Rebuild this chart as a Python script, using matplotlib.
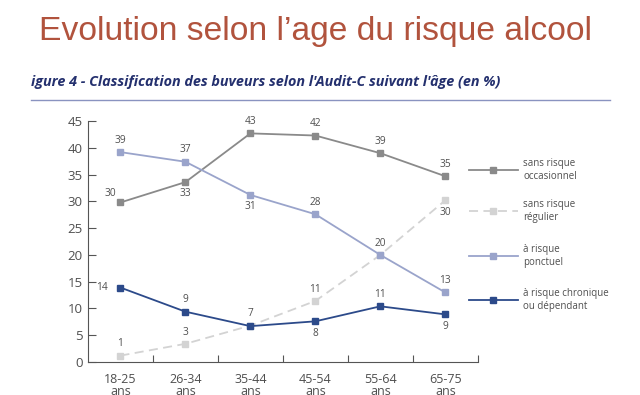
import matplotlib
matplotlib.use("Agg")
import matplotlib.pyplot as plt
from matplotlib.lines import Line2D

categories = ["18-25\nans", "26-34\nans", "35-44\nans", "45-54\nans", "55-64\nans", "65-75\nans"]
occasionnel = [29.8, 33.6, 42.7, 42.3, 39.0, 34.7]
regulier = [1.2, 3.4, 6.8, 11.4, 20.0, 30.2]
ponctuel = [39.2, 37.4, 31.2, 27.6, 20.0, 13.0]
chronique = [13.9, 9.4, 6.7, 7.6, 10.4, 8.9]
lab_occ = ["30", "33", "43", "42", "39", "35"]
lab_reg = ["1", "3", "7", "11", "20", "30"]
lab_pon = ["39", "37", "31", "28", "", "13"]
lab_chr = ["14", "9", "", "8", "11", "9"]
series_names = ["sans risque\noccasionnel", "sans risque\nrégulier", "à risque\nponctuel",
                "à risque chronique\nou dépendant"]
yticks = [0, 5, 10, 15, 20, 25, 30, 35, 40, 45]

title = "Evolution selon l\u2019age du risque alcool"
subtitle = "igure 4 - Classification des buveurs selon l'Audit-C suivant l'âge (en %)"

c_occ = "#8a8a8a"
c_reg = "#d3d3d3"
c_pon = "#9aa4cb"
c_chr = "#2c4a8a"
txt = "#4f4f4f"
font = ["Open Sans", "DejaVu Sans"]

fig = plt.figure(figsize=(6.4, 3.95), dpi=100)
fig.text(0.493, 0.92, title, fontsize=24.2, color="#b1533d", family=["Liberation Sans"],
         ha="center", va="center")
fig.text(0.048, 0.793, subtitle, fontsize=10.4, color="#24306e", family=font,
         weight="bold", style="italic", ha="left", va="center")
fig.add_artist(Line2D([0.049, 0.953], [0.747, 0.747], color="#8a93c0", lw=1.0))

ax = fig.add_axes([0.1375, 0.0835, 0.609, 0.610])
x = list(range(len(categories)))
ms = 4.2
ax.plot(x, occasionnel, color=c_occ, lw=1.3, marker="s", ms=ms, zorder=3)
ax.plot(x, regulier, color=c_reg, lw=1.3, ls=(0, (5, 3)), marker="s", ms=ms, zorder=2)
ax.plot(x, ponctuel, color=c_pon, lw=1.3, marker="s", ms=ms, zorder=3)
ax.plot(x, chronique, color=c_chr, lw=1.3, marker="s", ms=ms, zorder=4)

def lab(xs, ys, labels, offs):
    for xi, yi, t, o in zip(xs, ys, labels, offs):
        if t:
            ax.annotate(t, (xi, yi), xytext=o, textcoords="offset points",
                        ha="center", va="center", fontsize=7.3, color=txt, family=font)

up = (0, 8.5)
dn = (0, -8.5)
lab(x, occasionnel, lab_occ, [(-7, 6.5), dn, up, up, up, up])
lab(x, ponctuel, lab_pon, [up, up, dn, up, up, up])
lab(x, regulier, lab_reg, [up, up, up, up, up, (0, -9)])
lab(x, chronique, lab_chr, [(-13, 0), up, up, dn, up, dn])

ax.set_xlim(-0.5, 5.5)
ax.set_ylim(0, 45)
ax.set_yticks(yticks)
ax.set_xticks(x)
ax.set_xticklabels(categories, fontsize=9, color=txt, family=font, linespacing=0.9)
ax.set_xticks([i + 0.5 for i in range(6)], minor=True)
ax.tick_params(axis="x", which="major", length=0, pad=8)
ax.tick_params(axis="x", which="minor", direction="in", length=5, color="#555555", width=0.8)
ax.tick_params(axis="y", direction="in", length=6, color="#555555", width=0.8, pad=4)
for lbl in ax.get_yticklabels():
    lbl.set_fontsize(9.5)
    lbl.set_color(txt)
    lbl.set_family(font)
for s in ["top", "right"]:
    ax.spines[s].set_visible(False)
for s in ["left", "bottom"]:
    ax.spines[s].set_color("#555555")
    ax.spines[s].set_linewidth(0.8)

# legend
leg_y = [170, 211, 256, 300]
colors = [c_occ, c_reg, c_pon, c_chr]
styles = ["-", (0, (5, 3)), "-", "-"]
for yy, name, c, st in zip(leg_y, series_names, colors, styles):
    yf = 1 - yy / 395
    fig.add_artist(Line2D([469 / 640, 518 / 640], [yf, yf], color=c, lw=1.3, ls=st))
    fig.add_artist(Line2D([493 / 640], [yf], color=c, marker="s", ms=ms, lw=0))
    fig.text(523 / 640, yf, name, fontsize=7, color=txt, family=font,
             ha="left", va="center", linespacing=1.35)

fig.savefig("out.png", dpi=100, facecolor="white")
